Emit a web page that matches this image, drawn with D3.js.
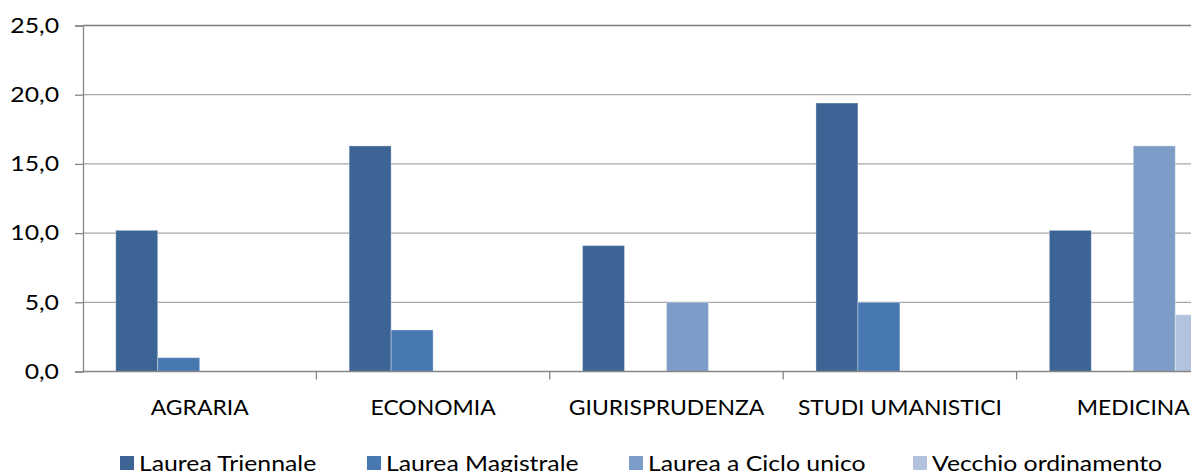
<!DOCTYPE html>
<html>
<head>
<meta charset="utf-8">
<script src="https://cdn.jsdelivr.net/npm/d3@7"></script>
<style>
  html, body { margin: 0; padding: 0; background: #fff; overflow: hidden; }
  text { font-family: Lato, "Open Sans", sans-serif; fill: #000; }
</style>
</head>
<body>
<div id="chart"></div>
<script>
// dati
const categories = ["AGRARIA", "ECONOMIA", "GIURISPRUDENZA", "STUDI UMANISTICI", "MEDICINA"];
const seriesNames = ["Laurea Triennale", "Laurea Magistrale", "Laurea a Ciclo unico", "Vecchio ordinamento"];
const triennale  = [10.2, 16.3, 9.1, 19.4, 10.2];
const magistrale = [1.0, 3.0, 0, 5.0, 0];
const cicloUnico = [0, 0, 5.0, 0, 16.3];
const vecchio    = [0, 0, 0, 0, 4.1];
const yTicks = [0, 5, 10, 15, 20, 25];
const colors = ["#3C6595", "#4878B2", "#7E9CC8", "#B3C2DE"];

const W = 1191, H = 472;
const plotLeft = 83, plotTop = 25.5, plotBottom = 371.5;
const bandW = 233.4;
const series = [triennale, magistrale, cicloUnico, vecchio];

const svg = d3.select("#chart").append("svg")
    .attr("width", W)
    .attr("height", H);

const x = d3.scaleBand()
    .domain(categories)
    .range([plotLeft, plotLeft + bandW * categories.length])
    .paddingInner(0)
    .paddingOuter(0);

const xs = d3.scaleBand()
    .domain(d3.range(seriesNames.length))
    .range([0, x.bandwidth()])
    .paddingOuter(0.78)
    .paddingInner(0);

const y = d3.scaleLinear().domain([0, 25]).range([plotBottom, plotTop]);

// griglia
svg.append("g")
    .selectAll("line")
    .data(yTicks.filter(d => d > 0))
    .enter().append("line")
    .attr("x1", plotLeft).attr("x2", W)
    .attr("y1", d => y(d)).attr("y2", d => y(d))
    .attr("stroke", d => d === 25 ? "#7a7a7a" : "#a6a6a6")
    .attr("stroke-width", d => d === 25 ? 1.6 : 1.3);

// barre
const groups = svg.append("g")
    .selectAll("g")
    .data(series)
    .enter().append("g")
    .attr("fill", (d, i) => colors[i]);

groups.selectAll("rect")
    .data((vals, si) => vals.map((v, ci) => ({ v, si, ci })).filter(d => d.v > 0))
    .enter().append("rect")
    .attr("x", d => x(categories[d.ci]) + xs(d.si))
    .attr("y", d => y(d.v))
    .attr("width", xs.bandwidth())
    .attr("height", d => y(0) - y(d.v))
    .attr("stroke", "#ffffff")
    .attr("stroke-opacity", 0.35)
    .attr("stroke-width", 1);

// asse y
const yAxis = svg.append("g")
    .attr("transform", `translate(${plotLeft},0)`)
    .call(d3.axisLeft(y).tickValues(yTicks).tickSize(8).tickPadding(16)
        .tickFormat(d => d3.format(".1f")(d).replace(".", ",")));
yAxis.select(".domain").attr("stroke", "#868686").attr("stroke-width", 1.3);
yAxis.selectAll(".tick line").attr("stroke", "#868686").attr("stroke-width", 1.3);
yAxis.selectAll(".tick text").attr("font-size", 21).attr("fill", "#000")
    .attr("class", "wide");

// asse x
const xAxis = svg.append("g")
    .attr("transform", `translate(0,${plotBottom})`);
xAxis.append("line")
    .attr("x1", plotLeft).attr("x2", W)
    .attr("stroke", "#868686").attr("stroke-width", 1.3);
xAxis.selectAll("line.tk")
    .data(categories)
    .enter().append("line")
    .attr("class", "tk")
    .attr("x1", d => x(d) + x.bandwidth()).attr("x2", d => x(d) + x.bandwidth())
    .attr("y1", 0).attr("y2", 8)
    .attr("stroke", "#868686").attr("stroke-width", 1.3);
xAxis.selectAll("text")
    .data(categories)
    .enter().append("text")
    .attr("class", "cat")
    .attr("x", d => x(d) + x.bandwidth() / 2)
    .attr("y", 43)
    .attr("text-anchor", "middle")
    .attr("font-size", 21)
    .text(d => d);

// legenda
const legendX = [120, 367, 629, 913];
const legend = svg.append("g")
    .selectAll("g")
    .data(seriesNames)
    .enter().append("g")
    .attr("transform", (d, i) => `translate(${legendX[i]},456)`);
legend.append("rect")
    .attr("width", 14).attr("height", 14)
    .attr("fill", (d, i) => colors[i]);
legend.append("text")
    .attr("class", "wide")
    .attr("x", 19).attr("y", 14.5)
    .attr("font-size", 21)
    .text(d => d);

// allarga il testo orizzontalmente (l'originale è più largo)
function stretchText(sel, k) {
    sel.each(function () {
        const len = this.getComputedTextLength();
        d3.select(this)
            .attr("textLength", len * k)
            .attr("lengthAdjust", "spacingAndGlyphs");
    });
}
stretchText(svg.selectAll("text.wide"), 1.18);
stretchText(svg.selectAll("text.cat"), 1.09);
</script>
</body>
</html>
